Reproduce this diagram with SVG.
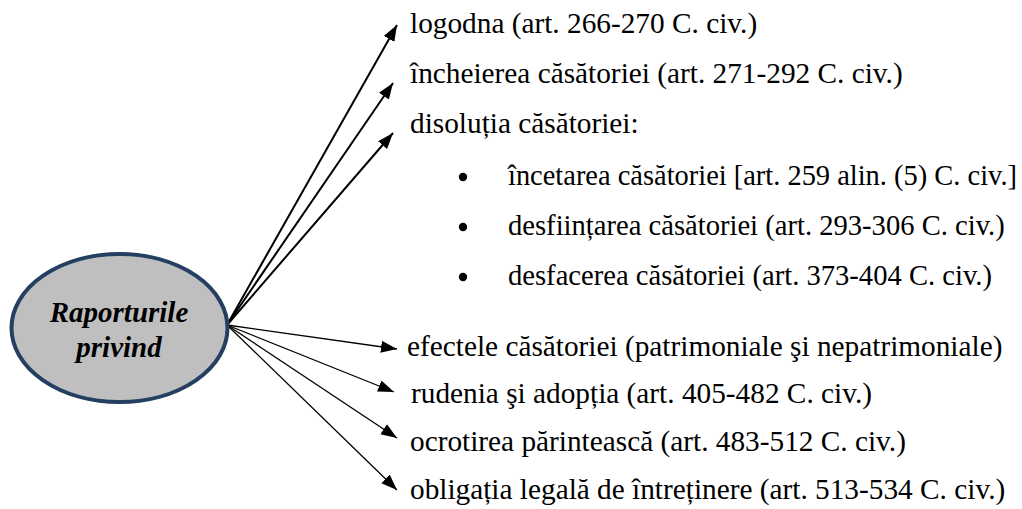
<svg xmlns="http://www.w3.org/2000/svg" width="1022" height="509" viewBox="0 0 1022 509">
  <style>
    text { font-family: 'Liberation Serif', 'Times New Roman', Times, serif; fill: #000; }
    .lbl { font-size: 29.3px; }
    .sub { font-size: 28.6px; }
    .hub { font-size: 29px; font-weight: bold; font-style: italic; }
    .up { stroke: #000; stroke-width: 2; fill: none; marker-end: url(#ah); }
    .dn { stroke: #000; stroke-width: 1.3; fill: none; marker-end: url(#ah); }
  </style>
  <defs>
    <marker id="ah" markerUnits="userSpaceOnUse" markerWidth="17" markerHeight="13" refX="16" refY="6" orient="auto">
      <path d="M0,0 L16,6 L0,12 z" fill="#000"/>
    </marker>
  </defs>
  <rect width="1022" height="509" fill="#fff"/>

  <g id="connectors">
    <line class="up" x1="227" y1="325" x2="397" y2="25"/>
    <line class="up" x1="227" y1="325" x2="393" y2="83"/>
    <line class="up" x1="227" y1="325" x2="393" y2="133"/>
    <line class="dn" x1="227" y1="325" x2="397" y2="349"/>
    <line class="dn" x1="227" y1="325" x2="394" y2="392"/>
    <line class="dn" x1="227" y1="325" x2="397" y2="438"/>
    <line class="dn" x1="227" y1="325" x2="397" y2="490"/>
  </g>

  <g id="hub">
    <ellipse cx="119.5" cy="328" rx="108" ry="74" fill="#BFBFBF" stroke="#243F60" stroke-width="4"/>
    <text class="hub" x="119" y="322" text-anchor="middle">Raporturile</text>
    <text class="hub" x="119" y="357" text-anchor="middle">privind</text>
  </g>

  <g id="n-logodna"><text class="lbl" x="410" y="33">logodna (art. 266-270 C. civ.)</text></g>
  <g id="n-incheierea"><text class="lbl" x="410" y="83">încheierea căsătoriei (art. 271-292 C. civ.)</text></g>
  <g id="n-disolutia"><text class="lbl" x="410" y="133">disoluția căsătoriei:</text></g>
  <g id="n-incetarea">
    <circle cx="463" cy="177" r="4.2" fill="#000"/>
    <text class="sub" x="508" y="185" textLength="509" lengthAdjust="spacingAndGlyphs">încetarea căsătoriei [art. 259 alin. (5) C. civ.]</text>
  </g>
  <g id="n-desfiintarea">
    <circle cx="463" cy="227" r="4.2" fill="#000"/>
    <text class="sub" x="508" y="235">desființarea căsătoriei (art. 293-306 C. civ.)</text>
  </g>
  <g id="n-desfacerea">
    <circle cx="463" cy="277" r="4.2" fill="#000"/>
    <text class="sub" x="508" y="285">desfacerea căsătoriei (art. 373-404 C. civ.)</text>
  </g>
  <g id="n-efectele"><text class="lbl" x="407" y="356">efectele căsătoriei (patrimoniale şi nepatrimoniale)</text></g>
  <g id="n-rudenia"><text class="lbl" x="411" y="403">rudenia şi adopția (art. 405-482 C. civ.)</text></g>
  <g id="n-ocrotirea"><text class="lbl" x="410" y="451">ocrotirea părintească (art. 483-512 C. civ.)</text></g>
  <g id="n-obligatia"><text class="lbl" x="410" y="499">obligația legală de întreținere (art. 513-534 C. civ.)</text></g>
</svg>
